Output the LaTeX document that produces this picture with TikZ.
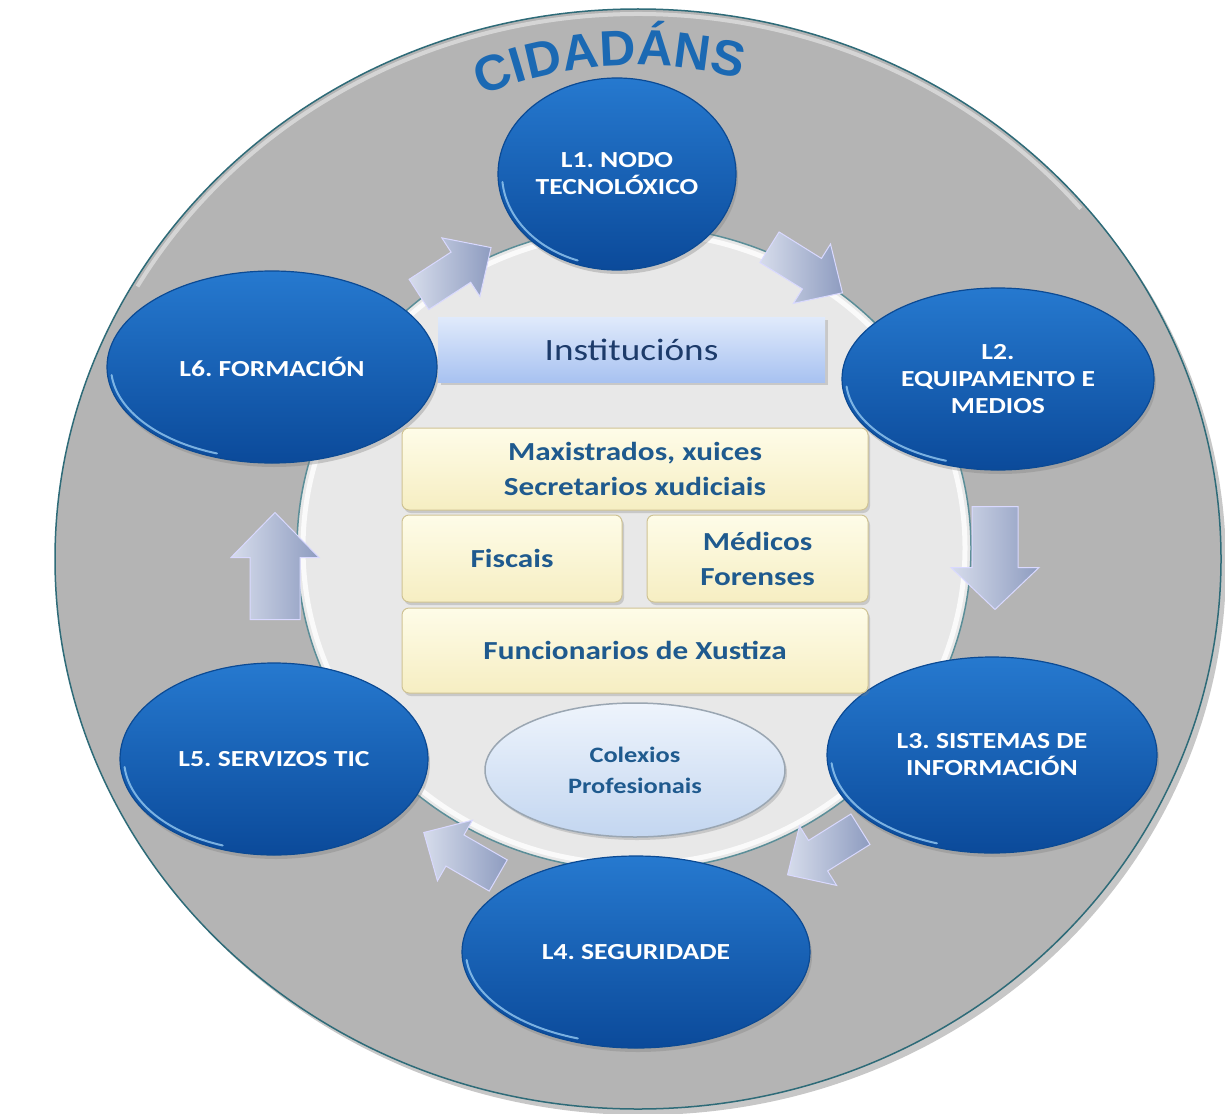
\documentclass[tikz,border=0pt]{standalone}
\usepackage{fontspec}
\setmainfont{Carlito}[FakeStretch=1.2]
\newfontfamily\cidfont{Liberation Sans}
\usetikzlibrary{shapes.geometric,shadows,decorations.text}
\frenchspacing
\definecolor{grayout}{HTML}{B4B4B4}
\definecolor{tealline}{HTML}{2E6B78}
\definecolor{ringfill}{HTML}{E8E8E8}
\definecolor{ringline}{HTML}{5B8E98}
\definecolor{bltop}{HTML}{2679CF}
\definecolor{blmid}{HTML}{1563BD}
\definecolor{blbot}{HTML}{0B4A9A}
\definecolor{blline}{HTML}{0B4A94}
\definecolor{glintc}{HTML}{9FD2F7}
\definecolor{cidblue}{HTML}{1B69B3}
\definecolor{boxtext}{HTML}{1F5A8E}
\definecolor{insttext}{HTML}{1D3B6A}
\definecolor{creamtop}{HTML}{FEFCE8}
\definecolor{creambot}{HTML}{F6EEC2}
\definecolor{creamline}{HTML}{CFC394}
\definecolor{insttop}{HTML}{E0EAFB}
\definecolor{instbot}{HTML}{A8C2F1}
\definecolor{arrl}{HTML}{D6DCEB}
\definecolor{arrd}{HTML}{8E9CC0}
\definecolor{coltop}{HTML}{EEF4FC}
\definecolor{colbot}{HTML}{C3D6F0}
\definecolor{colline}{HTML}{9AA6B2}
\tikzset{
  blueell/.style={ellipse, inner sep=0pt, top color=bltop, middle color=blmid, bottom color=blbot,
    draw=blline, line width=1.2pt, text=white, align=center,
    font=\bfseries\fontsize{23}{27}\selectfont,
    drop shadow={shadow xshift=2pt,shadow yshift=-4pt,opacity=.35}},
  glintstyle/.style={glintc, line width=2pt, line cap=round, opacity=.75},
  creambox/.style={rectangle, rounded corners=7pt, top color=creamtop, bottom color=creambot,
    draw=creamline, line width=1pt, text=boxtext, align=center,
    font=\bfseries\fontsize{26}{35}\selectfont,
    drop shadow={shadow xshift=2pt,shadow yshift=-3pt,opacity=.3}},
  blockarr/.style={left color=arrl, right color=arrd, draw=white!85!blue, line width=1pt},
}
\newcommand\glint[4]{%
  \pgfmathsetmacro\gx{#3-4}\pgfmathsetmacro\gy{#4-4}%
  \draw[glintstyle] (#1,#2) ++(185:\gx pt and \gy pt)
     arc[start angle=185,end angle=250,x radius=\gx pt,y radius=\gy pt];}
% \barrow{x}{y}{angle}{L}{hw}{sw}{hl}
\newcommand\barrow[7]{%
  \begin{scope}[shift={(#1,#2)},rotate=#3]
    \pgfmathsetmacro\ah{#4/2}\pgfmathsetmacro\ab{#4/2-#7}%
    \path[blockarr] (-\ah,-#6) -- (\ab,-#6) -- (\ab,-#5) -- (\ah,0) -- (\ab,#5) -- (\ab,#6) -- (-\ah,#6) -- cycle;
  \end{scope}}
\begin{document}
\begin{tikzpicture}[x=1pt,y=1pt]
\fill[white] (0,0) rectangle (1225,-1113);
\useasboundingbox (0,0) rectangle (1225,-1113);

% outer disc
\fill[black, opacity=.22] (643,-565) ellipse [x radius=583, y radius=550];
\node[ellipse, inner sep=0pt, minimum width=1166, minimum height=1100, fill=grayout, draw=tealline, line width=1.5pt] (outer) at (638,-559) {};
\draw[white, opacity=.45, line width=4pt] (638,-559) ++(40:578pt and 545pt) arc[start angle=40,end angle=150,x radius=578pt,y radius=545pt];

% CIDADANS
\path[decorate, decoration={text along path, text color=cidblue,
   text={|\cidfont\bfseries\fontsize{50}{50}\selectfont|CIDADÁNS}}]
   (637,-465) ++(112.8:400pt) arc[start angle=112.8, end angle=60, radius=400pt];

% inner ring
\node[ellipse, inner sep=0pt, minimum width=674, minimum height=644, fill=ringfill, draw=ringline, line width=1.5pt] (ring) at (634,-548) {};
\draw[white, line width=5pt, opacity=.8] (634,-548) ellipse [x radius=331pt, y radius=316pt];

% block arrows
\barrow{455}{-271}{33}{86}{35}{18}{36}
\barrow{806}{-270}{-32}{86}{35}{18}{36}
\barrow{995}{-558}{-90}{103}{44}{23}{42}
\barrow{824}{-852}{212}{86}{35}{18}{36}
\barrow{461}{-854}{150}{86}{35}{18}{36}
\barrow{275}{-566}{90}{107}{44}{25}{45}

% blue ellipses
\node[blueell, minimum width=238, minimum height=192] (l1) at (617,-174) {L1. NODO\\TECNOLÓXICO};
\glint{617}{-174}{119}{96}
\node[blueell, minimum width=312, minimum height=182] (l2) at (998,-379) {L2.\\EQUIPAMENTO E\\MEDIOS};
\glint{998}{-379}{156}{91}
\node[blueell, minimum width=330, minimum height=196] (l3) at (992,-755) {L3. SISTEMAS DE\\INFORMACIÓN};
\glint{992}{-755}{165}{98}
\node[blueell, minimum width=348, minimum height=192] (l4) at (636,-952) {L4. SEGURIDADE};
\glint{636}{-952}{174}{96}
\node[blueell, minimum width=308, minimum height=192] (l5) at (274,-759) {L5. SERVIZOS TIC};
\glint{274}{-759}{154}{96}
\node[blueell, minimum width=330, minimum height=192] (l6) at (272,-367) {L6. FORMACIÓN};
\glint{272}{-367}{165}{96}

% Instituciones
\node[rectangle, minimum width=387, minimum height=65, inner sep=0pt, top color=insttop, bottom color=instbot,
  text=insttext, font=\fontsize{31}{31}\selectfont,
  drop shadow={shadow xshift=3pt,shadow yshift=-3pt,opacity=.3}] (inst) at (631.5,-349.5) {Institucións};

% cream boxes
\node[creambox, minimum width=466, minimum height=82] (mag) at (635,-469) {Maxistrados, xuices\\Secretarios xudiciais};
\node[creambox, minimum width=220, minimum height=87] (fis) at (512,-558.5) {Fiscais};
\node[creambox, minimum width=221, minimum height=87] (med) at (757.5,-558.5) {Médicos\\Forenses};
\node[creambox, minimum width=466, minimum height=85] (fun) at (635,-650.5) {Funcionarios de Xustiza};

% Colexios
\node[ellipse, inner sep=0pt, minimum width=300, minimum height=134, top color=coltop, bottom color=colbot,
  draw=colline, line width=1.5pt, text=boxtext, align=center, font=\bfseries\fontsize{22}{31}\selectfont,
  drop shadow={shadow xshift=2pt,shadow yshift=-3pt,opacity=.3}] (col) at (635,-770) {Colexios\\Profesionais};
\end{tikzpicture}
\end{document}
